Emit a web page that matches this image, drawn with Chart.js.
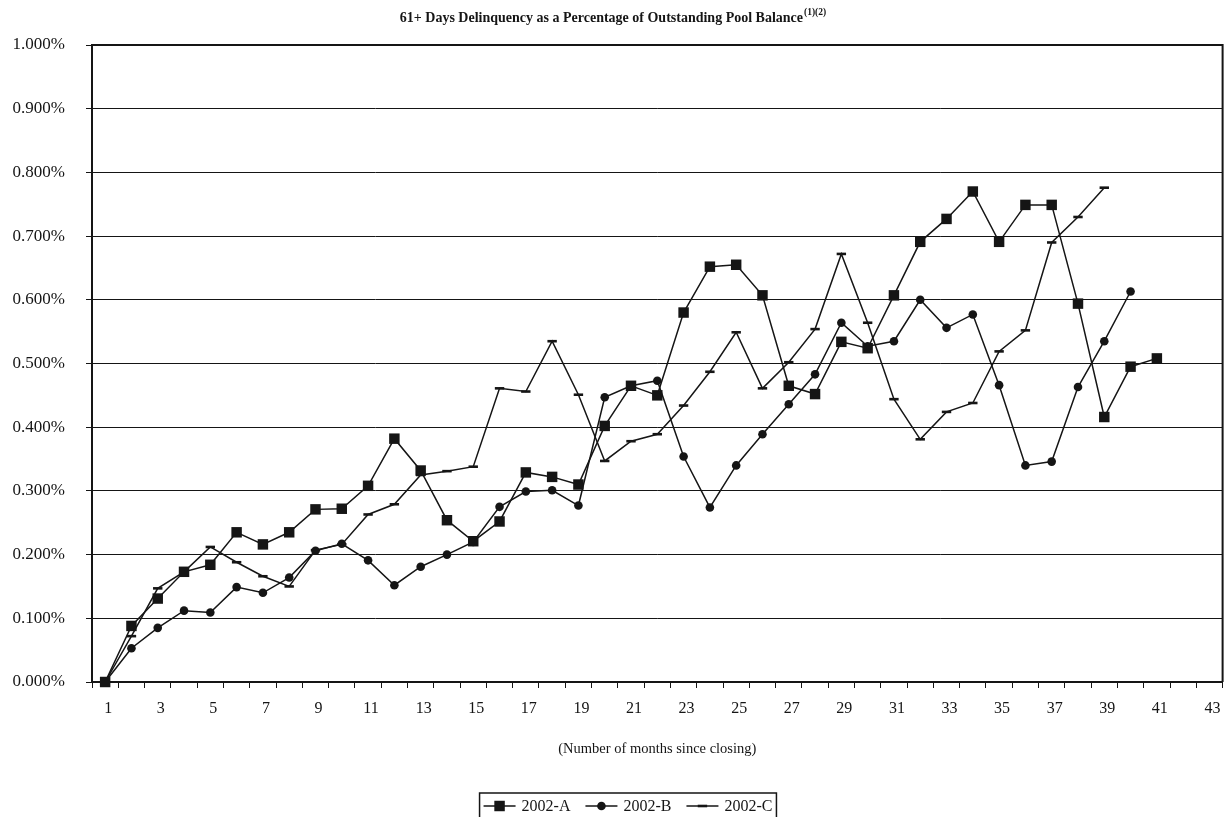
<!DOCTYPE html>
<html>
<head>
<meta charset="utf-8">
<script src="https://cdn.jsdelivr.net/npm/chart.js@4.4.1/dist/chart.umd.min.js"></script>
<style>
  html, body { margin: 0; padding: 0; background: #ffffff; }
  #wrap { width: 1230px; height: 817px; position: relative; }
</style>
</head>
<body>
<div id="wrap"><canvas id="chart" width="1230" height="817"></canvas></div>
<script>
// ---- Data (values are percentages, e.g. 0.500 = 0.500%) ----
const months = ['1','2','3','4','5','6','7','8','9','10','11','12','13','14','15','16','17','18','19','20',
  '21','22','23','24','25','26','27','28','29','30','31','32','33','34','35','36','37','38','39','40','41','42','43'];

const series2002A = [0.000, 0.088, 0.131, 0.173, 0.184, 0.235, 0.216, 0.235, 0.271, 0.272,
  0.308, 0.382, 0.332, 0.254, 0.221, 0.252, 0.329, 0.322, 0.310, 0.402,
  0.465, 0.450, 0.580, 0.652, 0.655, 0.607, 0.465, 0.452, 0.534, 0.524,
  0.607, 0.691, 0.727, 0.770, 0.691, 0.749, 0.749, 0.594, 0.416, 0.495, 0.508];

const series2002B = [0.000, 0.053, 0.085, 0.112, 0.109, 0.149, 0.140, 0.164, 0.206, 0.217,
  0.191, 0.152, 0.181, 0.200, 0.220, 0.275, 0.299, 0.301, 0.277, 0.447,
  0.465, 0.473, 0.354, 0.274, 0.340, 0.389, 0.436, 0.483, 0.564, 0.527,
  0.535, 0.600, 0.556, 0.577, 0.466, 0.340, 0.346, 0.463, 0.535, 0.613];

const series2002C = [0.000, 0.072, 0.147, 0.173, 0.212, 0.188, 0.166, 0.150, 0.207, 0.216,
  0.263, 0.279, 0.325, 0.331, 0.338, 0.461, 0.456, 0.535, 0.451, 0.347,
  0.378, 0.389, 0.434, 0.487, 0.549, 0.461, 0.502, 0.554, 0.672, 0.564,
  0.444, 0.381, 0.424, 0.438, 0.519, 0.552, 0.690, 0.730, 0.776];

const seriesLabels = ['2002-A', '2002-B', '2002-C'];
const titleMain = '61+ Days Delinquency as a Percentage of Outstanding Pool Balance';
const titleSup = '(1)(2)';
const xAxisTitle = '(Number of months since closing)';

const INK = '#151515';
const FONT = '"Liberation Serif", "Times New Roman", serif';

// ---- Plugins ----
const frameAndTitle = {
  id: 'frameAndTitle',
  afterDatasetsDraw(chart) {
    const ctx = chart.ctx, a = chart.chartArea;
    ctx.save();
    ctx.strokeStyle = INK;
    ctx.lineWidth = 2;
    ctx.beginPath();
    ctx.moveTo(a.left, a.top); ctx.lineTo(a.right, a.top); ctx.lineTo(a.right, a.bottom);
    ctx.stroke();
    ctx.restore();
  },
  afterDraw(chart) {
    const ctx = chart.ctx;
    ctx.save();
    ctx.fillStyle = INK;
    ctx.textBaseline = 'alphabetic';
    ctx.textAlign = 'left';
    ctx.font = 'bold 14px ' + FONT;
    const w1 = ctx.measureText(titleMain).width;
    ctx.font = 'bold 9.5px ' + FONT;
    const w2 = ctx.measureText(titleSup).width;
    const x0 = 613 - (w1 + w2 + 1) / 2;
    ctx.font = 'bold 14px ' + FONT;
    ctx.fillText(titleMain, x0, 22);
    ctx.font = 'bold 9.5px ' + FONT;
    ctx.fillText(titleSup, x0 + w1 + 1, 15);

    // legend
    ctx.font = '16px ' + FONT;
    const lineLen = 32, gap = 6, itemGap = 15, padX = 4;
    const items = chart.data.datasets.map(ds => ({ ds, tw: ctx.measureText(ds.label).width }));
    const total = items.reduce((s, it) => s + lineLen + gap + it.tw, 0) + itemGap * (items.length - 1);
    const boxW = total + padX * 2;
    const left = 628 - boxW / 2, top = 793, cy = 806;
    ctx.strokeStyle = INK;
    ctx.lineWidth = 1.5;
    ctx.strokeRect(left, top, boxW, 40);
    let x = left + padX;
    items.forEach(it => {
      const ds = it.ds;
      ctx.strokeStyle = INK;
      ctx.lineWidth = ds.borderWidth;
      ctx.beginPath(); ctx.moveTo(x, cy); ctx.lineTo(x + lineLen, cy); ctx.stroke();
      const mx = x + lineLen / 2;
      ctx.fillStyle = INK;
      if (ds.pointStyle === 'rect') {
        const s = ds.pointRadius * Math.SQRT1_2;
        ctx.fillRect(mx - s, cy - s, 2 * s, 2 * s);
      } else if (ds.pointStyle === 'circle') {
        ctx.beginPath(); ctx.arc(mx, cy, ds.pointRadius, 0, Math.PI * 2); ctx.fill();
      } else {
        ctx.lineWidth = ds.pointBorderWidth;
        ctx.beginPath(); ctx.moveTo(mx - ds.pointRadius, cy); ctx.lineTo(mx + ds.pointRadius, cy); ctx.stroke();
      }
      ctx.fillStyle = INK;
      ctx.textBaseline = 'middle';
      ctx.fillText(ds.label, x + lineLen + gap, cy + 1);
      x += lineLen + gap + it.tw + itemGap;
    });
    ctx.restore();
  }
};

function makeDataset(label, data, style, radius, pbw) {
  return {
    label, data,
    borderColor: INK, backgroundColor: INK,
    borderWidth: 1.5,
    pointStyle: style, pointRadius: radius, pointHoverRadius: radius,
    pointBackgroundColor: INK, pointBorderColor: INK, pointBorderWidth: pbw,
    tension: 0, fill: false, clip: false
  };
}

new Chart(document.getElementById('chart'), {
  type: 'line',
  data: {
    labels: months,
    datasets: [
      makeDataset(seriesLabels[0], series2002A, 'rect', 7.4, 0),
      makeDataset(seriesLabels[1], series2002B, 'circle', 4.3, 0),
      makeDataset(seriesLabels[2], series2002C, 'line', 4.7, 2.6)
    ]
  },
  options: {
    responsive: false,
    animation: false,
    events: [],
    layout: { padding: { top: 45, left: 0, right: 1, bottom: 55 } },
    plugins: { legend: { display: false }, title: { display: false }, tooltip: { enabled: false } },
    scales: {
      x: {
        type: 'category',
        offset: true,
        grid: { display: true, drawOnChartArea: false, drawTicks: true, tickLength: 6, offset: true, color: INK, lineWidth: 1 },
        border: { display: true, color: INK, width: 2 },
        ticks: {
          autoSkip: false, maxRotation: 0, minRotation: 0, padding: 11, labelOffset: 3, color: INK,
          font: { family: FONT, size: 16 },
          callback: (v, i) => (i % 2 === 0 ? months[i] : '')
        },
        title: { display: true, text: xAxisTitle, color: INK, font: { family: FONT, size: 14.5 }, padding: { top: 0, bottom: 4 } },
        afterFit(s) { s.height = 80; }
      },
      y: {
        min: 0, max: 1.0,
        grid: { color: INK, lineWidth: 1, tickLength: 6, drawTicks: true },
        border: { display: true, color: INK, width: 2 },
        ticks: {
          stepSize: 0.1, padding: 21, color: INK,
          font: { family: FONT, size: 17 },
          callback: v => v.toFixed(3) + '%'
        },
        afterFit(s) { s.width = 92; }
      }
    }
  },
  plugins: [frameAndTitle]
});
</script>
</body>
</html>
